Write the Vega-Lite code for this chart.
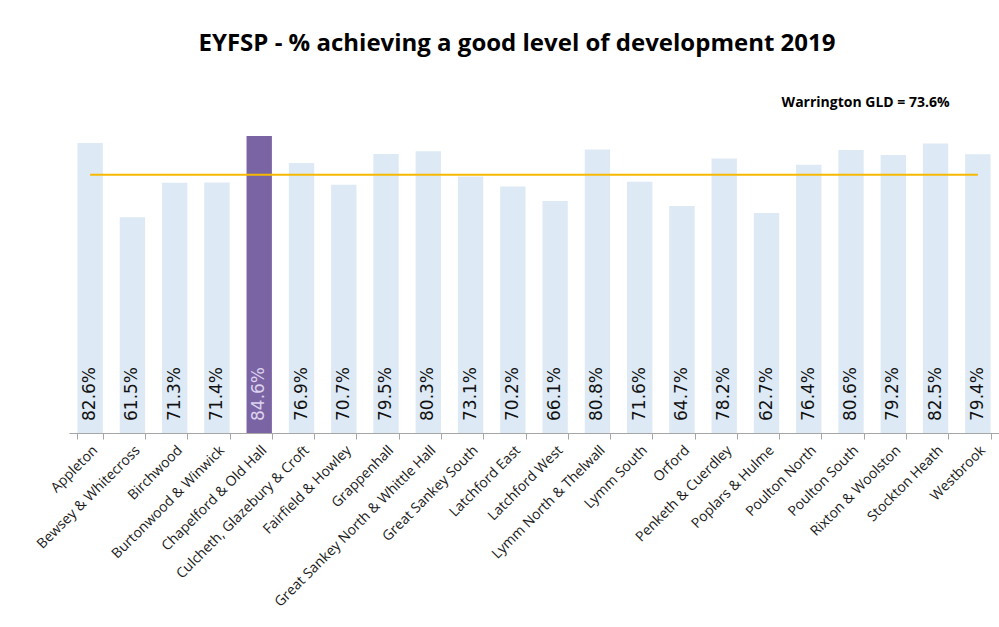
{
  "$schema": "https://vega.github.io/schema/vega-lite/v6.json",
  "width": 930,
  "height": 351,
  "autosize": {"type": "none"},
  "padding": {"left": 69, "top": 82, "right": 0, "bottom": 194},
  "background": "white",
  "title": {
    "text": "EYFSP - % achieving a good level of development 2019",
    "font": "Open Sans",
    "fontSize": 24,
    "fontWeight": "bold",
    "color": "#000000",
    "anchor": "middle",
    "offset": 26,
    "dx": -17
  },
  "config": {"view": {"stroke": null}},
  "data": {
    "values": [
      {"ward": "Appleton", "pct": 82.6, "hl": "no"},
      {"ward": "Bewsey & Whitecross", "pct": 61.5, "hl": "no"},
      {"ward": "Birchwood", "pct": 71.3, "hl": "no"},
      {"ward": "Burtonwood & Winwick", "pct": 71.4, "hl": "no"},
      {"ward": "Chapelford & Old Hall", "pct": 84.6, "hl": "yes"},
      {"ward": "Culcheth, Glazebury & Croft", "pct": 76.9, "hl": "no"},
      {"ward": "Fairfield & Howley", "pct": 70.7, "hl": "no"},
      {"ward": "Grappenhall", "pct": 79.5, "hl": "no"},
      {"ward": "Great Sankey North & Whittle Hall", "pct": 80.3, "hl": "no"},
      {"ward": "Great Sankey South", "pct": 73.1, "hl": "no"},
      {"ward": "Latchford East", "pct": 70.2, "hl": "no"},
      {"ward": "Latchford West", "pct": 66.1, "hl": "no"},
      {"ward": "Lymm North & Thelwall", "pct": 80.8, "hl": "no"},
      {"ward": "Lymm South", "pct": 71.6, "hl": "no"},
      {"ward": "Orford", "pct": 64.7, "hl": "no"},
      {"ward": "Penketh & Cuerdley", "pct": 78.2, "hl": "no"},
      {"ward": "Poplars & Hulme", "pct": 62.7, "hl": "no"},
      {"ward": "Poulton North", "pct": 76.4, "hl": "no"},
      {"ward": "Poulton South", "pct": 80.6, "hl": "no"},
      {"ward": "Rixton & Woolston", "pct": 79.2, "hl": "no"},
      {"ward": "Stockton Heath", "pct": 82.5, "hl": "no"},
      {"ward": "Westbrook", "pct": 79.4, "hl": "no"}
    ]
  },
  "encoding": {
    "x": {
      "field": "ward",
      "type": "nominal",
      "sort": null,
      "scale": {"paddingInner": 0.4, "paddingOuter": 0.2},
      "axis": {
        "title": null,
        "labelAngle": -45,
        "labelFont": "Open Sans",
        "labelFontSize": 14,
        "labelColor": "#1a1a1a",
        "labelPadding": 4,
        "domainColor": "#a6a6a6",
        "tickColor": "#a6a6a6",
        "tickBand": "extent",
        "tickSize": 6,
        "labelLimit": 400
      }
    }
  },
  "layer": [
    {
      "mark": {"type": "bar"},
      "encoding": {
        "y": {"field": "pct", "type": "quantitative", "scale": {"domain": [0, 100]}, "axis": null},
        "color": {
          "condition": {"test": "datum.hl === 'yes'", "value": "#7B64A3"},
          "value": "#DDEAF6"
        }
      }
    },
    {
      "transform": [{"calculate": "format(datum.pct, '.1f') + '%'", "as": "label"}],
      "mark": {"type": "text", "angle": 270, "align": "left", "baseline": "middle", "dx": 12, "font": "DejaVu Sans", "fontSize": 17},
      "encoding": {
        "y": {"datum": 0, "type": "quantitative"},
        "text": {"field": "label"},
        "color": {
          "condition": {"test": "datum.hl === 'yes'", "value": "#DCD3EE"},
          "value": "#111111"
        }
      }
    },
    {
      "data": {"values": [{"x1": "Appleton", "x2": "Westbrook", "gld": 73.6}]},
      "mark": {"type": "rule", "color": "#F7B900", "strokeWidth": 2},
      "encoding": {
        "x": {"field": "x1", "type": "nominal"},
        "x2": {"field": "x2"},
        "y": {"field": "gld", "type": "quantitative"}
      }
    },
    {
      "data": {"values": [{"x1": "Stockton Heath", "lbl": "Warrington GLD = 73.6%", "ypos": 94}]},
      "mark": {"type": "text", "align": "right", "baseline": "middle", "dx": 14, "font": "Open Sans", "fontSize": 14, "fontWeight": "bold", "color": "#000000"},
      "encoding": {
        "x": {"field": "x1", "type": "nominal"},
        "y": {"field": "ypos", "type": "quantitative"},
        "text": {"field": "lbl"}
      }
    }
  ]
}
